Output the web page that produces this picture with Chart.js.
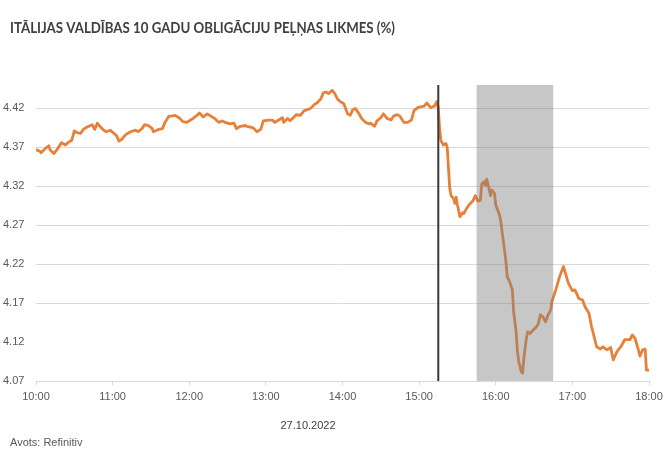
<!DOCTYPE html>
<html>
<head>
<meta charset="utf-8">
<script src="https://cdn.jsdelivr.net/npm/chart.js@4.4.0/dist/chart.umd.min.js"></script>
<style>
  html, body { margin: 0; padding: 0; background: #fff; }
  #wrap { width: 670px; height: 455px; overflow: hidden; }
</style>
</head>
<body>
<div id="wrap"><canvas id="chart" width="670" height="455"></canvas></div>
<script>
// 27.10.2022, Italian 10y yield, intraday
const times = ['10:00','10:03','10:04','10:07','10:10','10:11','10:14','10:16','10:20','10:23','10:25','10:28','10:30','10:32','10:35','10:37','10:40','10:44','10:46','10:48','10:50','10:53','10:55','10:58',
  '11:01','11:03','11:05','11:07','11:10','11:14','11:18','11:20','11:23','11:25','11:28','11:31','11:32','11:36','11:39','11:41','11:44','11:46','11:49','11:52','11:55','11:58',
  '12:01','12:03','12:06','12:08','12:11','12:14','12:16','12:20','12:23','12:26','12:28','12:32','12:35','12:37','12:40','12:44','12:45','12:48','12:50','12:53','12:56','12:58',
  '13:02','13:05','13:07','13:10','13:13','13:14','13:17','13:19','13:22','13:24','13:27','13:30','13:32','13:35','13:38','13:40','13:43','13:45','13:47','13:49','13:52','13:54','13:56','13:58',
  '14:01','14:04','14:06','14:08','14:10','14:13','14:15','14:18','14:21','14:22','14:25','14:27','14:30','14:32','14:35','14:38','14:40','14:43','14:45','14:48','14:51','14:54','14:56','14:59',
  '15:01','15:04','15:06','15:09','15:12','15:14','15:15','15:16','15:17','15:19','15:21','15:22','15:23','15:24','15:25','15:27','15:28','15:29','15:30','15:32','15:34','15:35','15:37','15:39','15:42','15:44','15:46','15:48','15:49','15:51','15:52','15:53','15:55','15:56','15:57','15:59',
  '16:00','16:03','16:04','16:06','16:08','16:09','16:11','16:13','16:14','16:16','16:17','16:18','16:20','16:21','16:22','16:24','16:25','16:27','16:29','16:31','16:33','16:35','16:37','16:39','16:41','16:43','16:44','16:47','16:50','16:53','16:55','16:57',
  '17:00','17:02','17:05','17:08','17:10','17:13','17:15','17:17','17:19','17:22','17:24','17:27','17:30','17:32','17:35','17:38','17:41','17:45','17:47','17:49','17:51','17:53','17:55','17:57','17:58','18:00'];
const yields = [4.367,4.365,4.363,4.368,4.372,4.367,4.362,4.366,4.376,4.373,4.376,4.379,4.391,4.389,4.388,4.393,4.396,4.399,4.393,4.401,4.397,4.392,4.390,4.392,
  4.388,4.385,4.378,4.380,4.386,4.390,4.392,4.390,4.394,4.399,4.398,4.394,4.390,4.393,4.394,4.402,4.410,4.410,4.411,4.408,4.403,4.402,
  4.405,4.407,4.411,4.414,4.409,4.413,4.411,4.407,4.402,4.404,4.402,4.400,4.401,4.394,4.397,4.398,4.397,4.396,4.395,4.390,4.393,4.404,
  4.405,4.405,4.402,4.405,4.408,4.402,4.407,4.404,4.409,4.412,4.411,4.417,4.418,4.420,4.425,4.427,4.432,4.440,4.441,4.439,4.443,4.439,4.432,4.429,
  4.426,4.413,4.411,4.418,4.420,4.413,4.407,4.402,4.400,4.401,4.397,4.404,4.408,4.413,4.407,4.405,4.410,4.412,4.410,4.402,4.402,4.405,4.417,4.421,
  4.422,4.423,4.427,4.421,4.423,4.429,4.420,4.395,4.379,4.373,4.375,4.370,4.343,4.317,4.308,4.304,4.298,4.306,4.296,4.281,4.286,4.285,4.291,4.296,4.301,4.308,4.301,4.302,4.323,4.326,4.321,4.329,4.315,4.308,4.315,4.311,
  4.296,4.283,4.274,4.249,4.223,4.204,4.197,4.187,4.159,4.133,4.108,4.095,4.082,4.080,4.099,4.125,4.133,4.131,4.135,4.138,4.142,4.155,4.152,4.146,4.155,4.161,4.172,4.187,4.204,4.217,4.206,4.195,
  4.186,4.187,4.176,4.174,4.165,4.157,4.140,4.127,4.114,4.111,4.114,4.110,4.113,4.097,4.108,4.114,4.123,4.123,4.129,4.125,4.114,4.102,4.110,4.111,4.084,4.084];

const yTicks = [4.07, 4.12, 4.17, 4.22, 4.27, 4.32, 4.37, 4.42];
const xTicks = ['10:00','11:00','12:00','13:00','14:00','15:00','16:00','17:00','18:00'];
const markTime = '15:15';
const shadeStart = '15:45';
const shadeEnd = '16:45';

const title = 'ITĀLIJAS VALDĪBAS 10 GADU OBLIGĀCIJU PEĻŅAS LIKMES (%)';
const dateLabel = '27.10.2022';
const source = 'Avots: Refinitiv';

function toMin(t) { const p = t.split(':').map(Number); return p[0] * 60 + p[1]; }
function fmt(m) { return Math.floor(m / 60) + ':' + String(m % 60).padStart(2, '0'); }

const tickFont = { family: 'Liberation Sans', size: 11 };

const extras = {
  id: 'extras',
  afterDatasetsDraw(chart) {
    const { ctx, chartArea: a, scales: { x } } = chart;
    ctx.save();
    // shaded window
    const s0 = x.getPixelForValue(toMin(shadeStart)), s1 = x.getPixelForValue(toMin(shadeEnd));
    ctx.fillStyle = 'rgba(128,128,128,0.44)';
    ctx.fillRect(s0, a.top, s1 - s0, a.bottom - a.top);
    // marker line
    const m = x.getPixelForValue(toMin(markTime));
    ctx.strokeStyle = '#3a3a3a';
    ctx.lineWidth = 2;
    ctx.beginPath(); ctx.moveTo(m, a.top); ctx.lineTo(m, a.bottom); ctx.stroke();
    ctx.restore();
  },
  afterDraw(chart) {
    const ctx = chart.ctx;
    ctx.save();
    ctx.fillStyle = '#404040';
    ctx.font = 'bold 15px Lato';
    ctx.textBaseline = 'alphabetic';
    // squeeze to the narrow width of the original heading
    const w = ctx.measureText(title).width;
    ctx.save();
    ctx.translate(10, 33);
    ctx.scale(385 / w, 1);
    ctx.fillText(title, 0, 0);
    ctx.restore();
    ctx.font = '11px "Liberation Sans"';
    ctx.textBaseline = 'middle';
    ctx.textAlign = 'center';
    ctx.fillStyle = '#404040';
    ctx.fillText(dateLabel, 308, 426);
    ctx.beginPath(); ctx.rect(0, 0, 670, 446); ctx.clip();
    ctx.textAlign = 'left';
    ctx.fillStyle = '#595959';
    ctx.fillText(source, 10, 443);
    ctx.restore();
  }
};

new Chart(document.getElementById('chart'), {
  type: 'line',
  data: {
    datasets: [{
      data: times.map((t, i) => ({ x: toMin(t), y: yields[i] })),
      borderColor: '#e8803a',
      borderWidth: 2.8,
      pointRadius: 0,
      tension: 0,
      borderJoinStyle: 'round'
    }]
  },
  options: {
    responsive: false,
    animation: false,
    layout: { padding: { top: 85, right: 21, left: 3, bottom: 0 } },
    plugins: { legend: { display: false }, tooltip: { enabled: false } },
    scales: {
      x: {
        type: 'linear', min: toMin(xTicks[0]), max: toMin(xTicks[xTicks.length - 1]),
        afterBuildTicks: s => { s.ticks = xTicks.map(t => ({ value: toMin(t) })); },
        afterFit: s => { s.height = 74; },
        ticks: { callback: v => fmt(v), color: '#595959', font: tickFont, padding: 5, maxRotation: 0, autoSkip: false },
        grid: { drawOnChartArea: false, tickLength: 4, color: '#d9d9d9' },
        border: { color: '#d9d9d9' }
      },
      y: {
        min: 4.07, max: 4.45,
        afterBuildTicks: s => { s.ticks = yTicks.map(v => ({ value: v })); },
        afterFit: s => { s.width = 33; },
        ticks: { callback: v => v.toFixed(2), color: '#595959', font: tickFont, crossAlign: 'far' },
        grid: { color: c => (c.tick && Math.abs(c.tick.value - 4.12) < 1e-6) ? 'rgba(0,0,0,0)' : '#d9d9d9', drawTicks: false },
        border: { display: false }
      }
    }
  },
  plugins: [extras]
});
</script>
</body>
</html>
